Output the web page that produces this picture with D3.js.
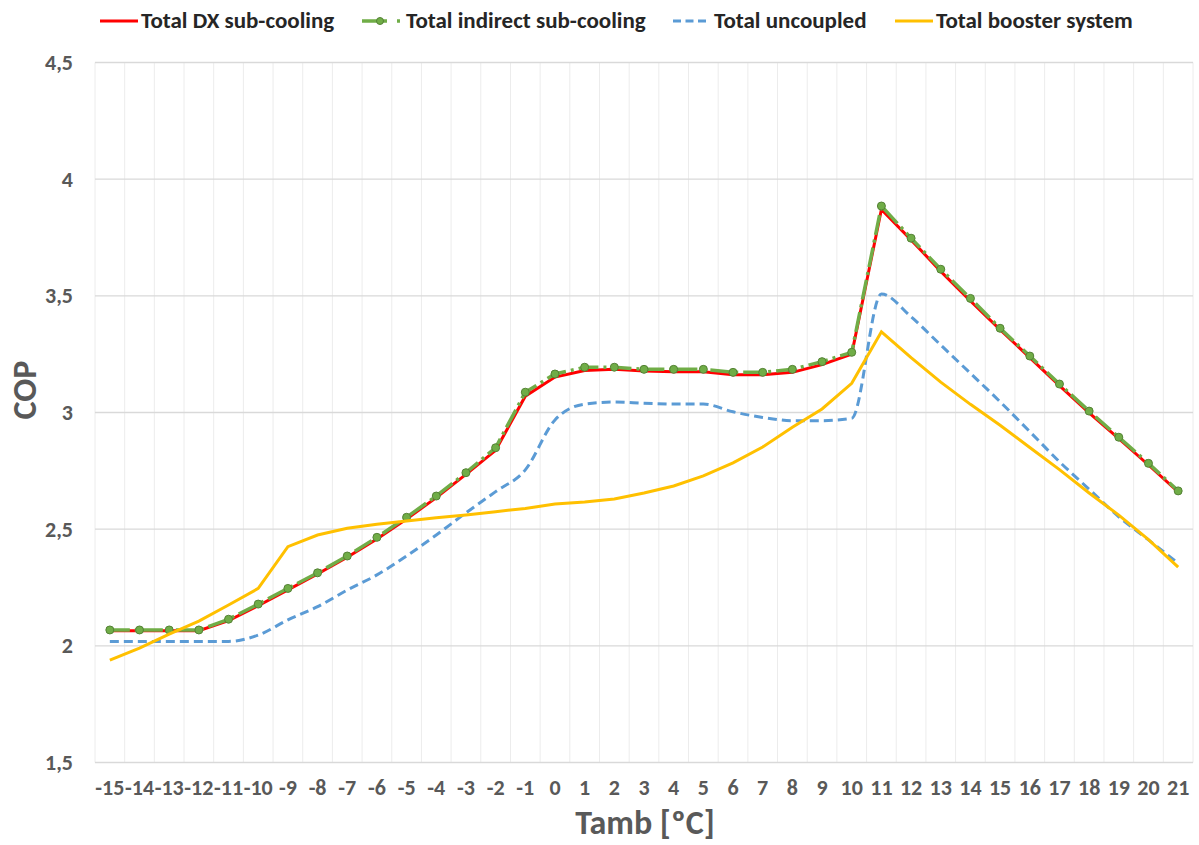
<!DOCTYPE html>
<html>
<head>
<meta charset="utf-8">
<script src="https://cdn.jsdelivr.net/npm/d3@7"></script>
<style>
  body { margin: 0; background: #fff; }
  text { font-family: Calibri, Carlito, "Liberation Sans Narrow", "Open Sans", sans-serif; font-weight: bold; }
</style>
</head>
<body>
<div class="container"></div>
<script>
const WIDTH = 1199;
const HEIGHT = 845;
const LEFT = 95, RIGHT = 1193, TOP = 62.5, BOTTOM = 762.5;

var tamb = [-15,-14,-13,-12,-11,-10,-9,-8,-7,-6,-5,-4,-3,-2,-1,0,1,2,3,4,5,6,7,8,9,10,11,12,13,14,15,16,17,18,19,20,21];

var dxSub = [2.065,2.065,2.065,2.065,2.108,2.172,2.240,2.308,2.380,2.458,2.544,2.635,2.735,2.838,3.070,3.152,3.180,3.185,3.178,3.175,3.175,3.162,3.162,3.172,3.205,3.250,3.870,3.740,3.605,3.478,3.355,3.235,3.115,2.998,2.888,2.775,2.660];
var indirectSub = [2.068,2.068,2.068,2.068,2.114,2.179,2.246,2.313,2.385,2.465,2.551,2.642,2.742,2.849,3.087,3.165,3.194,3.194,3.185,3.185,3.185,3.172,3.172,3.185,3.218,3.258,3.885,3.747,3.614,3.489,3.361,3.242,3.122,3.006,2.894,2.782,2.664];
var uncoupled = [2.019,2.019,2.019,2.019,2.019,2.046,2.111,2.168,2.239,2.304,2.385,2.475,2.570,2.661,2.754,2.968,3.036,3.045,3.040,3.036,3.036,3.003,2.979,2.965,2.965,2.975,3.508,3.410,3.289,3.168,3.046,2.918,2.789,2.671,2.553,2.454,2.354];
var booster = [1.939,1.990,2.050,2.106,2.175,2.246,2.425,2.475,2.504,2.521,2.535,2.549,2.561,2.575,2.589,2.608,2.616,2.629,2.655,2.685,2.728,2.784,2.852,2.937,3.015,3.125,3.346,3.235,3.130,3.035,2.945,2.850,2.755,2.655,2.560,2.455,2.337];

var yTicks = [1.5, 2, 2.5, 3, 3.5, 4, 4.5];
var seriesNames = ["Total DX sub-cooling", "Total indirect sub-cooling", "Total uncoupled", "Total booster system"];

var svg = d3.select('.container').append('svg')
    .attr('width', WIDTH)
    .attr('height', HEIGHT);

var xScale = d3.scaleBand().domain(tamb).range([LEFT, RIGHT]);
var yScale = d3.scaleLinear().domain([1.5, 4.5]).range([BOTTOM, TOP]);
var xc = function(d) { return xScale(d) + xScale.bandwidth() / 2; };

// vertical grid at category boundaries
svg.append('g').selectAll('line')
    .data(tamb.concat(['end']))
    .enter().append('line')
    .attr('x1', function(d) { return d === 'end' ? RIGHT : xScale(d); })
    .attr('x2', function(d) { return d === 'end' ? RIGHT : xScale(d); })
    .attr('y1', TOP).attr('y2', BOTTOM)
    .attr('stroke', '#ececec').attr('stroke-width', 1);

// horizontal grid
svg.append('g').selectAll('line')
    .data(yTicks)
    .enter().append('line')
    .attr('x1', LEFT).attr('x2', RIGHT)
    .attr('y1', yScale).attr('y2', yScale)
    .attr('stroke', '#d9d9d9').attr('stroke-width', 1.3);

var yAxis = d3.axisLeft(yScale).tickValues(yTicks).tickSize(0).tickPadding(22)
    .tickFormat(function(d) { return String(d).replace('.', ','); });
var gy = svg.append('g').attr('transform', 'translate(' + LEFT + ',0)').call(yAxis);
gy.select('.domain').remove();
gy.selectAll('text').attr('font-size', 22).attr('fill', '#595959');

var xAxis = d3.axisBottom(xScale).tickSize(0).tickPadding(17);
var gx = svg.append('g').attr('transform', 'translate(0,' + BOTTOM + ')').call(xAxis);
gx.select('.domain').remove();
gx.selectAll('text').attr('font-size', 22).attr('fill', '#595959');

svg.append('text').attr('x', 645).attr('y', 834).attr('text-anchor', 'middle')
    .attr('font-size', 34).attr('fill', '#595959').text('Tamb [ºC]');
svg.append('text').attr('transform', 'translate(36,390) rotate(-90)').attr('text-anchor', 'middle')
    .attr('font-size', 34).attr('fill', '#595959').text('COP');

var line = d3.line().x(function(d, i) { return xc(tamb[i]); }).y(function(d) { return yScale(d); });
var smooth = d3.line().curve(d3.curveMonotoneX)
    .x(function(d, i) { return xc(tamb[i]); }).y(function(d) { return yScale(d); });

var plot = svg.append('g').attr('fill', 'none');
plot.append('path').attr('d', line(dxSub)).attr('stroke', '#ff0000').attr('stroke-width', 3);
plot.append('path').attr('d', line(indirectSub)).attr('stroke', '#70ad47').attr('stroke-width', 3.5)
    .attr('stroke-dasharray', '20,5,3,5');
plot.selectAll('circle').data(indirectSub).enter().append('circle')
    .attr('cx', function(d, i) { return xc(tamb[i]); })
    .attr('cy', yScale)
    .attr('r', 4).attr('fill', '#70ad47').attr('stroke', '#548235').attr('stroke-width', 1);
plot.append('path').attr('d', smooth(uncoupled)).attr('stroke', '#5b9bd5').attr('stroke-width', 3)
    .attr('stroke-dasharray', '9,5');
plot.append('path').attr('d', line(booster)).attr('stroke', '#ffc000').attr('stroke-width', 3);

// legend
var legendX = [100, 362, 673, 895];
var legend = svg.append('g');
legendX.forEach(function(x, i) {
    var g = legend.append('g').attr('transform', 'translate(' + x + ',21)');
    if (i === 0) {
        g.append('line').attr('x1', 0).attr('x2', 38).attr('stroke', '#ff0000').attr('stroke-width', 3);
    } else if (i === 1) {
        g.append('line').attr('x1', 0).attr('x2', 38).attr('stroke', '#70ad47').attr('stroke-width', 3.5)
            .attr('stroke-dasharray', '25,10,3,5');
        g.append('circle').attr('cx', 18).attr('cy', 0).attr('r', 3.5).attr('fill', '#70ad47').attr('stroke', '#548235');
    } else if (i === 2) {
        g.append('line').attr('x1', 0).attr('x2', 33).attr('stroke', '#5b9bd5').attr('stroke-width', 3)
            .attr('stroke-dasharray', '8,4.5');
    } else {
        g.append('line').attr('x1', 0).attr('x2', 38).attr('stroke', '#ffc000').attr('stroke-width', 3);
    }
    g.append('text').attr('x', i === 1 ? 44 : 41).attr('y', 7).attr('font-size', 23).attr('fill', '#262626')
        .text(seriesNames[i]);
});
</script>
</body>
</html>
